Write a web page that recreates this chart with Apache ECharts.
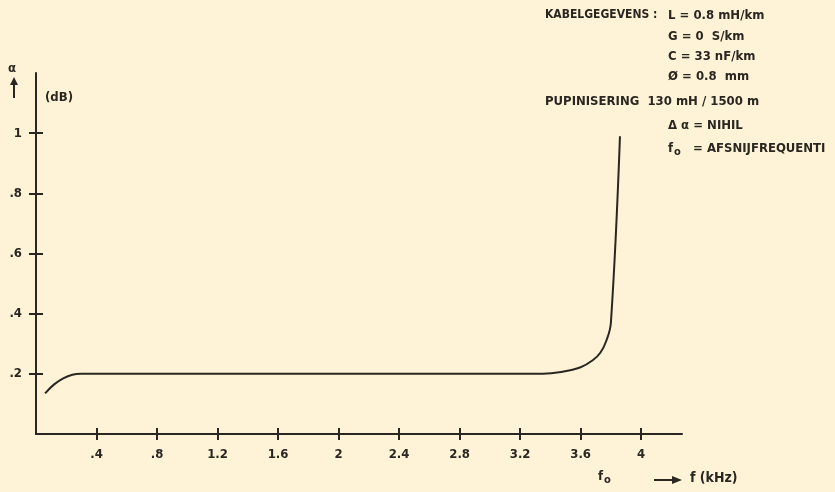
<!DOCTYPE html>
<html>
<head>
    <meta charset="utf-8">
    <script src="https://cdn.jsdelivr.net/npm/echarts@6/dist/echarts.min.js"></script>
    <style>
        html, body { margin: 0; padding: 0; background: #fef3d6; }
    </style>
</head>
<body>
    <div id="main" style="width: 835px;height:492px;"></div>
    <script type="text/javascript">
        // frequentie (kHz) en demping (dB)
        var freq = [0.06, 0.12, 0.18, 0.24, 0.3, 0.4, 0.8, 1.6, 2.4, 3.2, 3.35, 3.47, 3.6, 3.68, 3.73, 3.77, 3.8, 3.86];
        var alpha = [0.135, 0.165, 0.185, 0.197, 0.2, 0.2, 0.2, 0.2, 0.2, 0.2, 0.2, 0.206, 0.222, 0.245, 0.27, 0.31, 0.37, 0.99];

        var xTicks = [0.4, 0.8, 1.2, 1.6, 2, 2.4, 2.8, 3.2, 3.6, 4];
        var xTickLabels = ['.4', '.8', '1.2', '1.6', '2', '2.4', '2.8', '3.2', '3.6', '4'];
        var yTicks = [0.2, 0.4, 0.6, 0.8, 1];
        var yTickLabels = ['.2', '.4', '.6', '.8', '1'];

        var notes = [
            ['KABELGEGEVENS :', 'L = 0.8 mH/km'],
            ['', 'G = 0  S/km'],
            ['', 'C = 33 nF/km'],
            ['', 'Ø = 0.8  mm'],
            ['PUPINISERING  130 mH / 1500 m', ''],
            ['', 'Δ α = NIHIL'],
            ['', '{f|f}{s|o}   = AFSNIJFREQUENTI']
        ];

        var ink = '#2a2622';
        var font = 'DejaVu Sans Condensed';

        function labelOf(list, labels) {
            return function (v) {
                for (var i = 0; i < list.length; i++) {
                    if (Math.abs(list[i] - v) < 1e-6) return labels[i];
                }
                return '';
            };
        }

        var rich = {
            f: {fill: ink, font: 'bold 13px ' + font},
            s: {fill: ink, font: 'bold 11px ' + font, padding: [8, 0, 0, 1]}
        };

        var noteY = [18, 39, 59, 79, 104, 128, 151];
        var graphics = [];
        for (var i = 0; i < notes.length; i++) {
            if (notes[i][0]) {
                graphics.push({type: 'text', left: 545, top: noteY[i] - 9,
                    style: {text: notes[i][0], fill: ink, font: 'bold ' + (i === 0 ? 12 : 13) + 'px ' + font}});
            }
            if (notes[i][1]) {
                graphics.push({type: 'text', left: 668, top: noteY[i] - 9,
                    style: {text: notes[i][1], fill: ink, font: 'bold 13px ' + font, rich: rich}});
            }
        }
        // as-label alpha met pijl
        graphics.push({type: 'text', left: 8, top: 62, style: {text: 'α', fill: ink, font: 'bold 13px ' + font}});
        graphics.push({type: 'line', shape: {x1: 14, y1: 98, x2: 14, y2: 82}, style: {stroke: ink, lineWidth: 2}});
        graphics.push({type: 'polygon', shape: {points: [[10, 85], [18, 85], [14, 77]]}, style: {fill: ink}});
        graphics.push({type: 'text', left: 45, top: 91, style: {text: '(dB)', fill: ink, font: 'bold 13px ' + font}});
        // as-label f
        graphics.push({type: 'text', left: 598, top: 470, style: {text: '{f|f}{s|o}', rich: rich}});
        graphics.push({type: 'line', shape: {x1: 654, y1: 480, x2: 676, y2: 480}, style: {stroke: ink, lineWidth: 2}});
        graphics.push({type: 'polygon', shape: {points: [[672, 476], [682, 480], [672, 484]]}, style: {fill: ink}});
        graphics.push({type: 'text', left: 690, top: 471, style: {text: 'f (kHz)', fill: ink, font: 'bold 14px ' + font}});

        var data = [];
        for (var i = 0; i < freq.length; i++) data.push([freq[i], alpha[i]]);

        var option = {
            backgroundColor: '#fef3d6',
            animation: false,
            grid: {left: 36, right: 153, top: 73, bottom: 58},
            xAxis: [{
                type: 'value', min: 0, max: 4.27, interval: 0.4,
                splitLine: {show: false},
                axisLine: {lineStyle: {color: ink, width: 2}},
                axisTick: {show: true, length: 6, customValues: xTicks, lineStyle: {color: ink, width: 2}},
                axisLabel: {customValues: xTicks, formatter: labelOf(xTicks, xTickLabels), margin: 14,
                    color: ink, fontFamily: font, fontWeight: 'bold', fontSize: 13}
            }, {
                type: 'value', min: 0, max: 4.27, position: 'bottom',
                splitLine: {show: false}, axisLine: {show: false}, axisLabel: {show: false},
                axisTick: {show: true, inside: true, length: 6, customValues: xTicks, lineStyle: {color: ink, width: 2}}
            }],
            yAxis: [{
                type: 'value', min: 0, max: 1.2, interval: 0.2,
                splitLine: {show: false},
                axisLine: {show: true, lineStyle: {color: ink, width: 2}},
                axisTick: {show: true, length: 7, customValues: yTicks, lineStyle: {color: ink, width: 2}},
                axisLabel: {customValues: yTicks, formatter: labelOf(yTicks, yTickLabels), margin: 14,
                    color: ink, fontFamily: font, fontWeight: 'bold', fontSize: 13}
            }, {
                type: 'value', min: 0, max: 1.2, position: 'left',
                splitLine: {show: false}, axisLine: {show: false}, axisLabel: {show: false},
                axisTick: {show: true, inside: true, length: 7, customValues: yTicks, lineStyle: {color: ink, width: 2}}
            }],
            graphic: graphics,
            series: [{
                type: 'line',
                data: data,
                smooth: 0.4,
                showSymbol: false,
                lineStyle: {color: ink, width: 2}
            }]
        };

        var myChart = echarts.init(document.getElementById('main'));
        myChart.setOption(option);
    </script>
</body>
</html>
